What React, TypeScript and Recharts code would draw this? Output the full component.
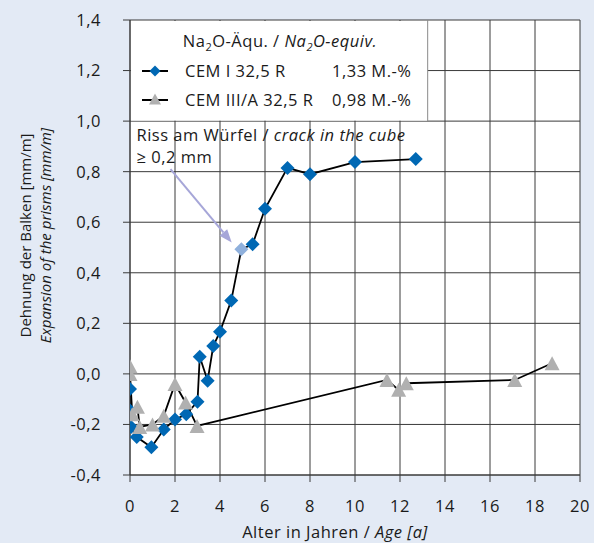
import React from 'react';
import { LineChart, Line, XAxis, YAxis, CartesianGrid, ReferenceArea, ReferenceLine, Label } from 'recharts';

// ---- data ----
const xTicks = [0, 2, 4, 6, 8, 10, 12, 14, 16, 18, 20];
const yTicks = [-0.4, -0.2, 0, 0.2, 0.4, 0.6, 0.8, 1.0, 1.2, 1.4];

const cem1Ages = [0, 0, 0.05, 0.3, 0.95, 1.5, 2.0, 2.5, 3.0, 3.1, 3.45, 3.7, 4.0, 4.5, 4.95, 5.45, 6.0, 7.0, 8.0, 10.0, 12.7];
const cem1Expansion = [-0.06, -0.145, -0.21, -0.25, -0.29, -0.22, -0.18, -0.16, -0.11, 0.068, -0.027, 0.11, 0.167, 0.29, 0.493, 0.513, 0.653, 0.815, 0.79, 0.838, 0.85];
const crackIndex = 14; // first crack >= 0,2 mm on the cube

const cem3Ages = [0, 0, 0.1, 0.33, 0.43, 1.0, 1.5, 2.0, 2.47, 2.98, 11.42, 11.94, 12.28, 17.1, 18.76];
const cem3Expansion = [0.03, 0.0, -0.16, -0.13, -0.21, -0.2, -0.166, -0.04, -0.113, -0.206, -0.024, -0.063, -0.037, -0.024, 0.042];

const cem1Name = 'CEM I 32,5 R';
const cem1Na2O = '1,33 M.-%';
const cem3Name = 'CEM III/A 32,5 R';
const cem3Na2O = '0,98 M.-%';

const arrowStart = { x: 1.8, y: 0.81 };
const arrowEnd = { x: 4.52, y: 0.52 };
const legendRightAge = 13.23;

const cem1Data = cem1Ages.map((age, i) => ({ age, expansion: cem1Expansion[i] }));
const cem3Data = cem3Ages.map((age, i) => ({ age, expansion: cem3Expansion[i] }));

// ---- styles ----
const FONT = '"Open Sans", "Noto Sans", sans-serif';
const FS = 16.5;
const LS = 0.5;
const FW = 500;
const TXT = '#1a1a1a';
const BLUE = '#0068b4';
const LIGHTBLUE = '#8fb0dc';
const GRAY = '#b0b0b0';
const GRID = '#3a3a3a';
const BG = '#e3eaf5';

const fmt = (v: number) => v.toFixed(1).replace('.', ',');

const diamondPts = (cx: number, cy: number, r: number) =>
  `${cx},${cy - r} ${cx + r},${cy} ${cx},${cy + r} ${cx - r},${cy}`;
const trianglePts = (cx: number, cy: number, w: number, h: number) =>
  `${cx},${cy - h / 2} ${cx + w / 2},${cy + h / 2} ${cx - w / 2},${cy + h / 2}`;

const DiamondDot = (props: any) => {
  const { cx, cy, index } = props;
  if (cx == null || cy == null) return <g key={`d${index}`} />;
  return (
    <polygon
      key={`d${index}`}
      points={diamondPts(cx, cy, 7)}
      fill={index === crackIndex ? LIGHTBLUE : BLUE}
    />
  );
};

const TriangleDot = (props: any) => {
  const { cx, cy, index } = props;
  if (cx == null || cy == null) return <g key={`t${index}`} />;
  return <polygon key={`t${index}`} points={trianglePts(cx, cy, 15, 14)} fill={GRAY} />;
};

const LegendBox = (props: any) => {
  const { x, y, width, height } = props;
  const rowY1 = y + 51;
  const rowY2 = y + 80;
  return (
    <g fontFamily={FONT} fontSize={FS} fontWeight={FW} fill={TXT} letterSpacing={LS}>
      <rect x={x + 1} y={y + 1} width={width - 1} height={height - 1.5} fill="#ffffff" />
      <line x1={x + width} y1={y} x2={x + width} y2={y + height} stroke="#8a8a8a" strokeWidth={1} />
      <text x={x + 150} y={y + 26.5} textAnchor="middle" fill={TXT}>
        <tspan>Na</tspan>
        <tspan fontSize={11} dy={4}>2</tspan>
        <tspan dy={-4}>O-Äqu. / </tspan>
        <tspan fontStyle="italic">Na</tspan>
        <tspan fontStyle="italic" fontSize={11} dy={4}>2</tspan>
        <tspan fontStyle="italic" dy={-4}>O-equiv.</tspan>
      </text>
      <line x1={x + 12} y1={rowY1} x2={x + 38} y2={rowY1} stroke="#000" strokeWidth={2} />
      <polygon points={diamondPts(x + 25, rowY1, 5.5)} fill={BLUE} />
      <text x={x + 55} y={rowY1 + 6.3} fill={TXT}>{cem1Name}</text>
      <text x={x + 202} y={rowY1 + 6.3} fill={TXT}>{cem1Na2O}</text>
      <line x1={x + 12} y1={rowY2} x2={x + 38} y2={rowY2} stroke="#000" strokeWidth={2} />
      <polygon points={trianglePts(x + 25, rowY2 - 1, 12, 11)} fill={GRAY} />
      <text x={x + 55} y={rowY2 + 6} fill={TXT}>{cem3Name}</text>
      <text x={x + 202} y={rowY2 + 6} fill={TXT}>{cem3Na2O}</text>
    </g>
  );
};

const ArrowShape = (props: any) => {
  const { x1, y1, x2, y2 } = props;
  if ([x1, y1, x2, y2].some((v) => v == null || isNaN(v))) return <g />;
  const dx = x2 - x1;
  const dy = y2 - y1;
  const len = Math.sqrt(dx * dx + dy * dy);
  const ux = dx / len;
  const uy = dy / len;
  const hl = 13;
  const hw = 5;
  const bx = x2 - ux * hl;
  const by = y2 - uy * hl;
  const px = -uy;
  const py = ux;
  return (
    <g>
      <line x1={x1} y1={y1} x2={bx} y2={by} stroke="#a6a6d8" strokeWidth={2} />
      <polygon
        points={`${x2},${y2} ${bx + px * hw},${by + py * hw} ${bx - px * hw},${by - py * hw}`}
        fill="#a6a6d8"
      />
      <text x={x1 - 34} y={y1 - 28.5} fontFamily={FONT} fontSize={FS} fontWeight={FW} fill={TXT} letterSpacing={LS}>
        Riss am Würfel / <tspan fontStyle="italic">crack in the cube</tspan>
      </text>
      <text x={x1 - 34} y={y1 - 6} fontFamily={FONT} fontSize={FS} fontWeight={FW} fill={TXT} letterSpacing={LS}>
        ≥ 0,2 mm
      </text>
    </g>
  );
};

const XLabel = (props: any) => {
  const vb = props.viewBox || {};
  const cx = vb.x + vb.width / 2 - 20;
  return (
    <text x={cx} y={vb.y + 63} textAnchor="middle" fontFamily={FONT} fontSize={FS} fontWeight={FW} fill={TXT} letterSpacing={LS}>
      Alter in Jahren / <tspan fontStyle="italic">Age [a]</tspan>
    </text>
  );
};

const YLabel = (props: any) => {
  const vb = props.viewBox || {};
  const cy = vb.y + vb.height / 2 - 12;
  return (
    <g fontFamily={FONT} fontSize={15} fontWeight={FW} fill={TXT}>
      <text x={30.5} y={cy} textAnchor="middle" transform={`rotate(-90, 30.5, ${cy})`}>
        Dehnung der Balken [mm/m]
      </text>
      <text x={51} y={cy} textAnchor="middle" fontStyle="italic" transform={`rotate(-90, 51, ${cy})`}>
        Expansion of the prisms [mm/m]
      </text>
    </g>
  );
};

const tickStyle = { fill: TXT, fontSize: FS, fontFamily: FONT, fontWeight: FW, letterSpacing: LS };

export default function App() {
  return (
    <div style={{ position: 'absolute', left: 0, top: 0, width: 594, height: 543, background: BG }}>
      <LineChart width={594} height={543} margin={{ top: 20, right: 14, bottom: 0, left: 0 }}>
        <CartesianGrid stroke={GRID} fill="#ffffff" fillOpacity={1} />
        <XAxis
          type="number"
          dataKey="age"
          domain={[0, 20]}
          ticks={xTicks}
          interval={0}
          allowDataOverflow
          height={68}
          tickSize={7}
          tickMargin={18}
          stroke={GRID}
          tick={tickStyle}
        >
          <Label content={XLabel} />
        </XAxis>
        <YAxis
          type="number"
          dataKey="expansion"
          domain={[-0.4, 1.4]}
          ticks={yTicks}
          interval={0}
          allowDataOverflow
          width={130}
          tickSize={7}
          tickMargin={22}
          stroke={GRID}
          tickFormatter={fmt}
          tick={tickStyle}
        >
          <Label content={YLabel} />
        </YAxis>
        <ReferenceArea x1={0} x2={legendRightAge} y1={1.0} y2={1.4} shape={LegendBox} ifOverflow="visible" />
        <ReferenceLine
          segment={[arrowStart, arrowEnd]}
          shape={ArrowShape}
          ifOverflow="visible"
        />
        <Line
          data={cem1Data}
          dataKey="expansion"
          stroke="#000"
          strokeWidth={1.8}
          dot={(p: any) => <DiamondDot {...p} key={`d${p.index}`} />}
          activeDot={false}
          isAnimationActive={false}
        />
        <Line
          data={cem3Data}
          dataKey="expansion"
          stroke="#000"
          strokeWidth={1.8}
          dot={(p: any) => <TriangleDot {...p} key={`t${p.index}`} />}
          activeDot={false}
          isAnimationActive={false}
        />
      </LineChart>
    </div>
  );
}
